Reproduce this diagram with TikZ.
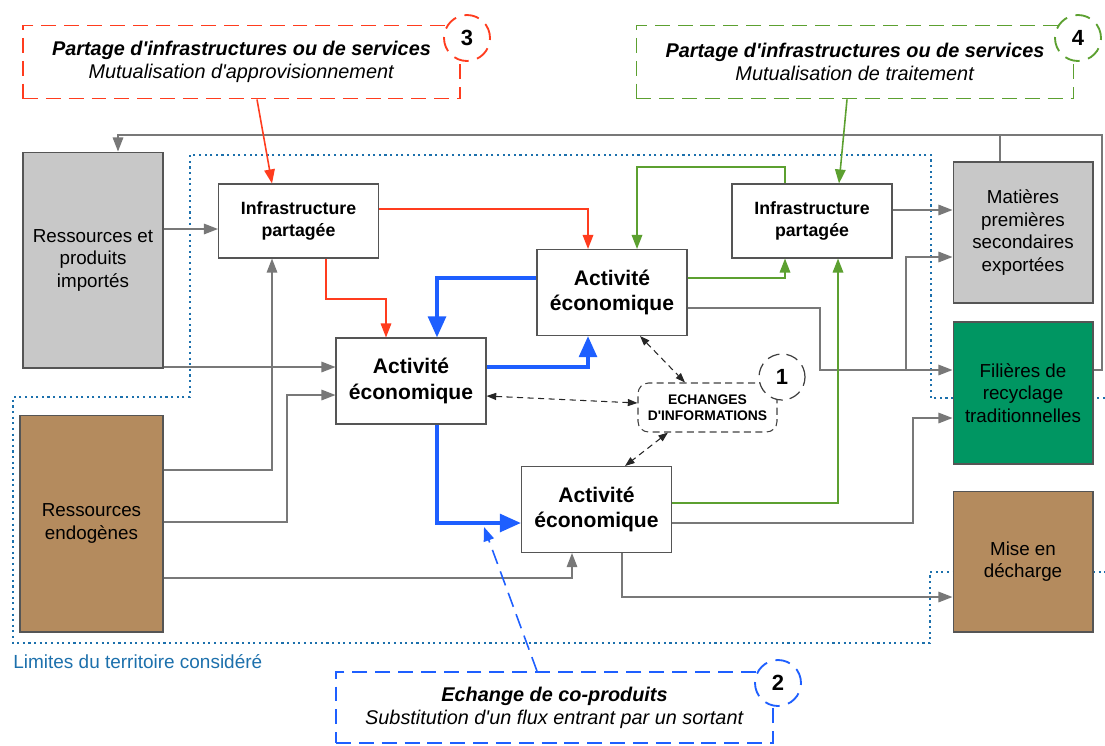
\documentclass[tikz,border=0pt]{standalone}
\usepackage{fontspec}
\setmainfont{Liberation Sans}
\usetikzlibrary{arrows.meta}
\definecolor{boxline}{RGB}{85,85,85}
\definecolor{flowgray}{RGB}{120,120,120}
\definecolor{impgray}{RGB}{200,200,200}
\definecolor{endobrown}{RGB}{180,139,94}
\definecolor{recgreen}{RGB}{0,150,98}
\definecolor{redline}{RGB}{255,60,30}
\definecolor{greenline}{RGB}{92,160,48}
\definecolor{coblue}{RGB}{30,95,255}
\definecolor{limitblue}{RGB}{28,112,172}
\begin{document}
\begin{tikzpicture}[x=0.02cm,y=-0.02cm,
  box/.style={draw=boxline,line width=0.6pt,inner sep=0pt,align=center},
  res/.style={box,minimum width=2.8cm,font=\fontsize{10.7}{12.8}\selectfont},
  act/.style={box,fill=white,minimum width=3cm,minimum height=1.72cm,font=\fontsize{12}{14.7}\selectfont\bfseries},
  infra/.style={box,fill=white,minimum width=3.2cm,minimum height=1.48cm,font=\fontsize{10.1}{12.3}\selectfont\bfseries},
  callout/.style={draw=#1,line width=1.05pt,dash pattern=on 8.5pt off 4.5pt,minimum width=8.74cm,minimum height=1.46cm,inner sep=0pt,align=center,font=\fontsize{11.3}{13}\selectfont},
  num/.style={circle,draw=#1,fill=white,line width=1.05pt,dash pattern=on 8.5pt off 5pt,minimum size=0.92cm,inner sep=0pt,font=\fontsize{12.5}{14}\selectfont\bfseries},
  flow/.style={draw=flowgray,line width=0.8pt,-{Triangle[length=8pt,width=6pt]}},
  link/.style={draw=flowgray,line width=0.8pt},
  redflow/.style={draw=redline,line width=0.9pt,-{Triangle[length=8pt,width=6pt]}},
  greenflow/.style={draw=greenline,line width=0.9pt,-{Triangle[length=8pt,width=6pt]}},
  coflow/.style={draw=coblue,line width=2.3pt,-{Triangle[length=12pt,width=10pt]}},
  info/.style={draw=black!85,line width=0.6pt,dash pattern=on 3.5pt off 2.5pt,{Triangle[length=5.5pt,width=4pt]}-{Triangle[length=5.5pt,width=4pt]}},
  pointer/.style={draw=coblue,line width=0.9pt,dash pattern=on 8.5pt off 4.5pt,-{Triangle[length=8pt,width=6pt]}},
  limit/.style={draw=limitblue,line width=1.2pt,dash pattern=on 1.2pt off 2pt}]
\useasboundingbox (0,0) rectangle (1105,745);

\draw[limit] (1105,398) -- (931,398) -- (931,155) -- (190,155) -- (190,397) -- (13,397) -- (13,643) -- (930,643) -- (930,572) -- (1105,572);
\node[anchor=west,inner sep=0pt,text=limitblue,font=\fontsize{10.8}{13}\selectfont] (limlabel) at (13,662) {Limites du territoire considéré};

\node[res,fill=impgray,minimum height=4.32cm] (imp) at (93,260) {Ressources et\\produits\\importés};
\node[res,fill=endobrown,minimum width=2.86cm,minimum height=4.34cm] (endo) at (91.5,523.5) {Ressources\\endogènes};
\node[res,fill=impgray,minimum height=2.82cm] (mat) at (1023,232.5) {Matières\\premières\\secondaires\\exportées};
\node[res,fill=recgreen,minimum height=2.84cm] (fil) at (1023,393) {Filières de\\recyclage\\traditionnelles};
\node[res,fill=endobrown,minimum height=2.82cm] (dech) at (1023,561.5) {Mise en\\décharge};

\node[infra] (infraL) at (298.5,221) {Infrastructure\\partagée};
\node[infra] (infraR) at (812,221) {Infrastructure\\partagée};
\node[act] (actA) at (411,381) {Activité\\économique};
\node[act] (actB) at (612,292.5) {Activité\\économique};
\node[act] (actC) at (596.5,509.5) {Activité\\économique};
\node[draw=black!75,line width=0.6pt,dash pattern=on 4pt off 2.5pt,rounded corners=6pt,minimum width=2.78cm,minimum height=0.98cm,inner sep=0pt,align=center,font=\fontsize{7.9}{9}\selectfont\bfseries] (echg) at (707.5,407.5) {ECHANGES\\D\textquotesingle INFORMATIONS};

\node[callout=redline] (box3) at (241.5,62) {\textbf{\textit{Partage d\textquotesingle infrastructures ou de services}}\\\textit{Mutualisation d\textquotesingle approvisionnement}};
\node[callout=greenline] (box4) at (855,62) {\textbf{\textit{Partage d\textquotesingle infrastructures ou de services}}\\\textit{Mutualisation de traitement}};
\node[callout=coblue,minimum height=1.42cm] (box2) at (554.5,707.5) {\textbf{\textit{Echange de co-produits}}\\\textit{Substitution d\textquotesingle un flux entrant par un sortant}};

\draw[flow] (imp.east |- 0,229) -- (infraL.west |- 0,229);
\draw[flow] (imp.east |- 0,367) -- (actA.west |- 0,367);
\draw[flow] (endo.east |- 0,470) -| (infraL.south -| 272,0);
\draw[flow] (endo.east |- 0,522) -| (287,395) -- (actA.west |- 0,395);
\draw[flow] (endo.east |- 0,578) -| (actC.south -| 572,0);
\draw[flow] (actC.south -| 622,0) |- (dech.west |- 0,597);
\draw[flow] (actC.east |- 0,523) -| (913,418) -- (fil.west |- 0,418);
\draw[flow] (actB.east |- 0,308) -| (820,370) -- (fil.west |- 0,370);
\draw[flow] (906,370) |- (mat.west |- 0,257);
\draw[flow] (infraR.east |- 0,210) -- (mat.west |- 0,210);
\draw[flow] (fil.east |- 0,370) -| (1102,135) -| (imp.north -| 118,0);
\draw[link] (mat.north -| 1000,0) -- (1000,135);

\draw[redflow] (box3.south -| 257,0) -- (infraL.north -| 272,0);
\draw[redflow] (infraL.east |- 0,209) -| (actB.north -| 588,0);
\draw[redflow] (infraL.south -| 326,0) |- (386,299) -- (actA.north -| 386,0);

\draw[greenflow] (box4.south -| 847,0) -- (infraR.north -| 839,0);
\draw[greenflow] (infraR.north -| 785,0) |- (637,167) -- (actB.north -| 637,0);
\draw[greenflow] (actB.east |- 0,278) -| (infraR.south -| 785,0);
\draw[greenflow] (actC.east |- 0,503) -| (infraR.south -| 838,0);

\draw[coflow] (actA.east |- 0,367) -| (actB.south -| 588,0);
\draw[coflow] (actB.west |- 0,278) -| (actA.north -| 437,0);
\draw[coflow] (actA.south -| 437,0) |- (actC.west |- 0,523);

\draw[info] (actA.east |- 0,396) -- (echg.west |- 0,403);
\draw[info] (actB.south -| 640,0) -- (echg.north -| 685,0);
\draw[info] (echg.south -| 668,0) -- (actC.north -| 625,0);

\coordinate (cotip) at (484,527);
\draw[pointer] (box2.north -| 537,0) -- (cotip);

\node[num=black!75,line width=0.7pt,dash pattern=on 7pt off 4pt] (n1) at (782,377) {1};
\node[num=coblue] (n2) at (778,683) {2};
\node[num=redline] (n3) at (467,38) {3};
\node[num=greenline] (n4) at (1078,38) {4};
\end{tikzpicture}
\end{document}
